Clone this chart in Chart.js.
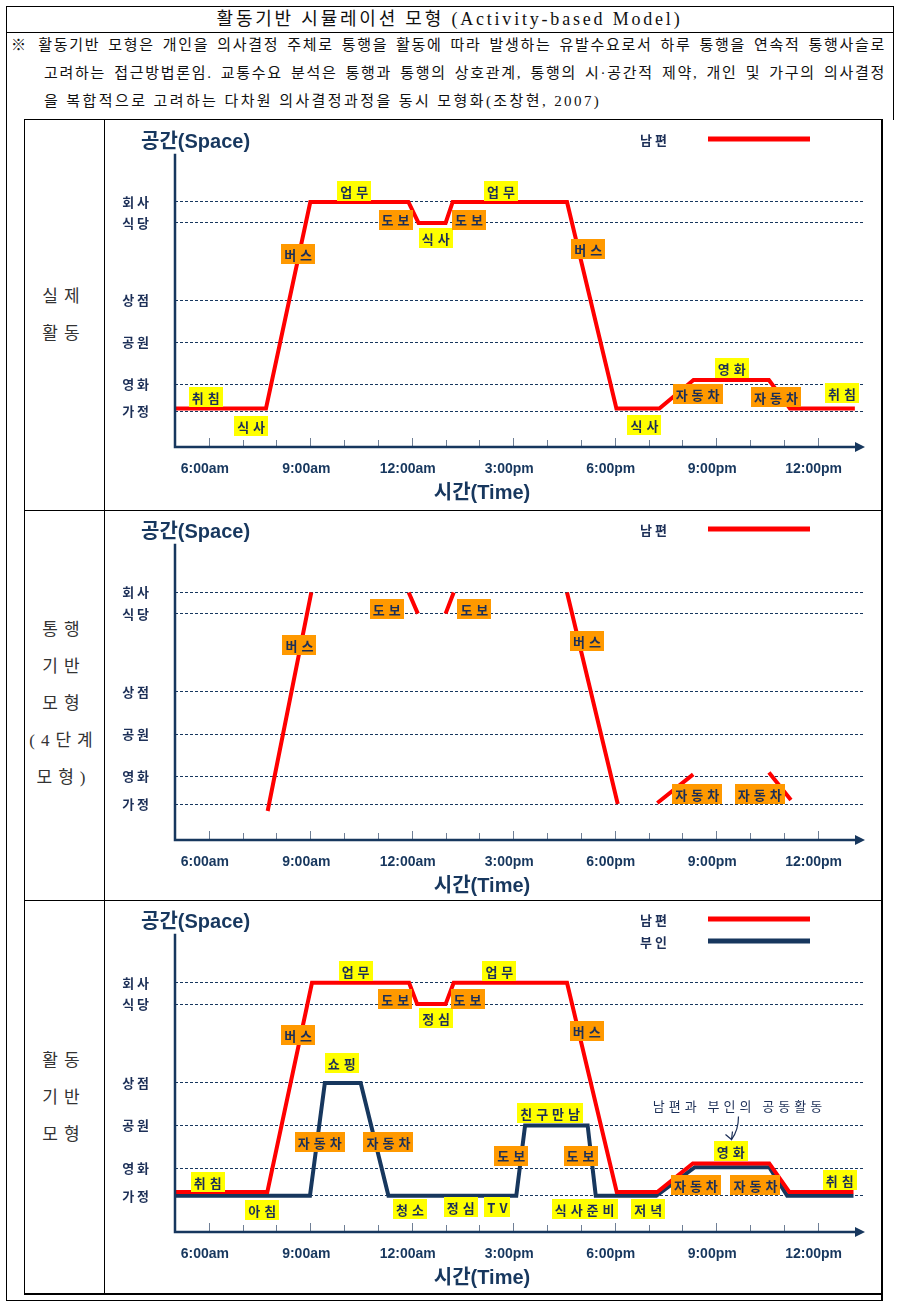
<!DOCTYPE html>
<html lang="ko">
<head>
<meta charset="utf-8">
<title>활동기반 시뮬레이션 모형</title>
<script src="https://cdn.jsdelivr.net/npm/chart.js@4.4.1/dist/chart.umd.min.js"></script>
<style>
  html, body { margin: 0; padding: 0; background: #fff; }
  #page { position: relative; width: 905px; height: 1307px; font-family: "Liberation Serif", "Noto Sans CJK KR", serif; color: #111; overflow: hidden; }
  .ln { position: absolute; background: #000; }
  #title { position: absolute; left: 6px; top: 7px; width: 887px; height: 25px; line-height: 25px; text-align: center; font-size: 18px; letter-spacing: 2.8px; }
  .note { position: absolute; font-size: 15px; height: 28px; line-height: 28px; white-space: nowrap; letter-spacing: 1.7px; }
  .just { text-align: justify; text-align-last: justify; }
  .side { position: absolute; left: 24px; width: 80px; text-align: center; font-size: 17px; line-height: 37px; letter-spacing: 6px; color: #333; }
  canvas { position: absolute; left: 105px; }
</style>
</head>
<body>
<div id="page">
  <div id="title">활동기반 시뮬레이션 모형 (Activity-based Model)</div>
  <div class="note just" style="left:11px; top:31px; width:875px;">※ 활동기반 모형은 개인을 의사결정 주체로 통행을 활동에 따라 발생하는 유발수요로서 하루 통행을 연속적 통행사슬로</div>
  <div class="note just" style="left:44px; top:59px; width:842px;">고려하는 접근방법론임. 교통수요 분석은 통행과 통행의 상호관계, 통행의 시·공간적 제약, 개인 및 가구의 의사결정</div>
  <div class="note" style="left:44px; top:87px; letter-spacing:2.4px;">을 복합적으로 고려하는 다차원 의사결정과정을 동시 모형화(조창현, 2007)</div>

  <div class="side" style="top:278px;">실제<br>활동</div>
  <div class="side" style="top:611px;">통행<br>기반<br>모형<br>(4단계<br>모형)</div>
  <div class="side" style="top:1042px;">활동<br>기반<br>모형</div>

  <canvas id="c1" width="776" height="390" style="top:120px"></canvas>
  <canvas id="c2" width="776" height="390" style="top:510px"></canvas>
  <canvas id="c3" width="776" height="394" style="top:900px"></canvas>

  <!-- frame lines -->
  <div class="ln" style="left:6px; top:6px; width:888px; height:1px"></div>
  <div class="ln" style="left:6px; top:32px; width:888px; height:1px"></div>
  <div class="ln" style="left:6px; top:6px; width:1px; height:1295px"></div>
  <div class="ln" style="left:893px; top:6px; width:1px; height:114px"></div>
  <div class="ln" style="left:6px; top:1300px; width:877px; height:1px"></div>
  <div class="ln" style="left:24px; top:119px; width:859px; height:1px"></div>
  <div class="ln" style="left:24px; top:510px; width:859px; height:1px"></div>
  <div class="ln" style="left:24px; top:900px; width:859px; height:1px"></div>
  <div class="ln" style="left:24px; top:1293px; width:859px; height:2px"></div>
  <div class="ln" style="left:24px; top:119px; width:1px; height:1176px"></div>
  <div class="ln" style="left:104px; top:119px; width:1px; height:1176px"></div>
  <div class="ln" style="left:881px; top:119px; width:2px; height:1182px"></div>
</div>

<script>
// space levels (y axis)
const levelNames = ['가 정', '영 화', '공 원', '상 점', '식 당', '회 사'];
const levelValues = [0, 1.3, 3.3, 5.3, 9, 10];

// time axis (hours)
const tickHours = [6, 9, 12, 15, 18, 21, 24];
const tickLabels = ['6:00am', '9:00am', '12:00am', '3:00pm', '6:00pm', '9:00pm', '12:00pm'];
const hourMarks = [6, 7, 8, 9, 10, 11, 12, 13, 14, 15, 16, 17, 18, 19, 20, 21, 22, 23, 24];

// panel 1 - actual activity (husband)
const p1Hours = [5, 7.69, 9.0, 11.9, 12.2, 13.0, 13.21, 16.59, 18.05, 19.32, 20.33, 22.56, 23.18, 25.1];
const p1Levels = [0.14, 0.14, 10, 10, 9, 9, 10, 10, 0.14, 0.14, 1.5, 1.5, 0.14, 0.14];
const p1LabelText = ['업무', '도보', '식사', '도보', '업무', '버스', '버스', '취침', '식사', '식사', '자동차', '영화', '자동차', '취침'];
const p1LabelHour = [10.30, 11.52, 12.71, 13.69, 14.64, 8.64, 17.22, 5.91, 7.25, 18.88, 20.45, 21.46, 22.77, 24.72];
const p1LabelLevel = [10.51, 9.16, 8.27, 9.16, 10.51, 7.52, 7.76, 0.70, -0.70, -0.65, 0.84, 2.06, 0.70, 0.89];
const p1LabelFill = ['y', 'o', 'y', 'o', 'y', 'o', 'o', 'y', 'y', 'y', 'o', 'y', 'o', 'y'];

// panel 2 - trip based model (only the trips remain, null = gap)
const p2Hours = [7.74, 9.03, null, 11.91, 12.18, null, 13.0, 13.24, null, 16.59, 18.09, null, 19.26, 20.32, null, 22.56, 23.21];
const p2Levels = [-0.33, 10, null, 10, 9, null, 9, 10, null, 10, 0, null, 0.05, 1.4, null, 1.49, 0.19];
const p2LabelText = ['버스', '도보', '도보', '버스', '자동차', '자동차'];
const p2LabelHour = [8.68, 11.26, 13.85, 17.18, 20.44, 22.29];
const p2LabelLevel = [7.53, 9.21, 9.21, 7.72, 0.47, 0.47];
const p2LabelFill = ['o', 'o', 'o', 'o', 'o', 'o'];

// panel 3 - activity based model (husband + wife)
const p3HusbandHours = [5, 7.73, 9.05, 11.92, 12.16, 13.0, 13.24, 16.59, 18.06, 19.26, 20.31, 22.57, 23.16, 25.06];
const p3HusbandLevels = [0.18, 0.18, 10, 10, 9, 9, 10, 10, 0.18, 0.18, 1.52, 1.52, 0.18, 0.18];
const p3WifeHours = [5, 8.99, 9.43, 10.49, 11.31, 15.09, 15.35, 17.2, 17.44, 19.23, 20.37, 22.57, 23.1, 25.06];
const p3WifeLevels = [0, 0, 5.3, 5.3, 0, 0, 3.3, 3.3, 0, 0, 1.34, 1.34, 0, 0];
const p3LabelText = ['업무', '도보', '정심', '도보', '업무', '버스', '쇼핑', '버스', '자동차', '자동차', '취침', '아침', '청소', '정심', 'TV', '친구만남', '도보', '도보', '식사준비', '저녁', '영화', '자동차', '자동차', '취침'];
const p3LabelHour = [10.34, 11.51, 12.72, 13.65, 14.59, 8.64, 9.93, 17.17, 9.28, 11.31, 5.97, 7.58, 11.95, 13.45, 14.53, 16.09, 14.94, 16.99, 17.11, 18.99, 21.43, 20.40, 22.16, 24.65];
const p3LabelLevel = [10.55, 9.22, 8.34, 9.22, 10.55, 7.56, 6.22, 7.74, 2.53, 2.53, 0.65, -0.65, -0.60, -0.51, -0.51, 3.87, 1.89, 1.89, -0.60, -0.60, 2.12, 0.51, 0.51, 0.74];
const p3LabelFill = ['y', 'o', 'y', 'o', 'y', 'o', 'y', 'o', 'o', 'o', 'y', 'y', 'y', 'y', 'y', 'y', 'o', 'o', 'y', 'y', 'y', 'o', 'o', 'y'];

const RED = '#ff0000';
const NAVY = '#17375e';
const TXT = '#1c2f57';
const FILLS = { y: '#ffff00', o: '#ff9900' };
const KFONT = '"Noto Sans CJK KR", sans-serif';

function points(hours, levels) {
    return hours.map((h, i) => ({ x: h, y: levels[i] }));
}

function labelList(text, hour, level, fill) {
    return text.map((t, i) => ({ t: t, h: hour[i], v: level[i], f: FILLS[fill[i]] }));
}

// axes, ticks, titles, legend and the activity boxes
const decor = {
    id: 'decor',
    afterDatasetsDraw(chart, args, opts) {
        const { ctx, chartArea: a, scales: { x, y } } = chart;
        ctx.save();

        // hour marks, pointing up from the time axis
        ctx.strokeStyle = '#6f7f96';
        ctx.lineWidth = 1;
        hourMarks.forEach(h => {
            const px = Math.round(x.getPixelForValue(h)) + 0.5;
            const len = tickHours.includes(h) ? 9 : 7;
            ctx.beginPath();
            ctx.moveTo(px, a.bottom);
            ctx.lineTo(px, a.bottom - len);
            ctx.stroke();
        });

        // axis lines + arrow
        ctx.strokeStyle = NAVY;
        ctx.lineWidth = 2.5;
        ctx.beginPath();
        ctx.moveTo(a.left, a.top);
        ctx.lineTo(a.left, a.bottom);
        ctx.lineTo(a.right - 6, a.bottom);
        ctx.stroke();
        ctx.fillStyle = NAVY;
        ctx.beginPath();
        ctx.moveTo(a.right, a.bottom);
        ctx.lineTo(a.right - 10, a.bottom - 5);
        ctx.lineTo(a.right - 10, a.bottom + 5);
        ctx.closePath();
        ctx.fill();

        // axis titles
        ctx.fillStyle = NAVY;
        ctx.font = 'bold 20px "Liberation Sans", ' + KFONT;
        ctx.textBaseline = 'middle';
        ctx.textAlign = 'left';
        ctx.fillText('공간(Space)', a.left - 34, a.top - 11);
        ctx.textAlign = 'center';
        ctx.fillText('시간(Time)', 377, a.bottom + 46);

        // legend
        ctx.font = 'bold 13px ' + KFONT;
        ctx.textAlign = 'left';
        chart.data.datasets.forEach((ds, i) => {
            const ly = 20 + i * 22;
            ctx.fillStyle = TXT;
            ctx.fillText(ds.label, 535, ly);
            ctx.strokeStyle = ds.borderColor;
            ctx.lineWidth = 5;
            ctx.beginPath();
            ctx.moveTo(603, ly - 1);
            ctx.lineTo(705, ly - 1);
            ctx.stroke();
        });

        // activity / mode boxes
        ctx.letterSpacing = '4px';
        ctx.font = 'bold 13px ' + KFONT;
        (opts.labels || []).forEach(l => {
            const cx = x.getPixelForValue(l.h);
            const cy = y.getPixelForValue(l.v);
            const tw = ctx.measureText(l.t).width - 4;
            const bw = Math.round(tw + 6);
            ctx.fillStyle = l.f;
            ctx.fillRect(Math.round(cx - bw / 2), Math.round(cy - 10), bw, 20);
            ctx.fillStyle = TXT;
            ctx.textAlign = 'left';
            ctx.fillText(l.t, cx - tw / 2, cy + 1);
        });

        // shared activity note with arrow
        if (opts.note) {
            const nx = x.getPixelForValue(opts.note.h);
            const ny = y.getPixelForValue(opts.note.v);
            ctx.font = '13px ' + KFONT;
            ctx.fillStyle = TXT;
            const tw = ctx.measureText(opts.note.t).width - 4;
            ctx.fillText(opts.note.t, nx - tw / 2, ny);
            ctx.letterSpacing = '0px';
            ctx.strokeStyle = TXT;
            ctx.lineWidth = 1.2;
            ctx.beginPath();
            ctx.moveTo(nx + 1, ny + 10);
            ctx.quadraticCurveTo(nx + 1, ny + 24, nx - 6, ny + 33);
            ctx.stroke();
            ctx.beginPath();
            ctx.moveTo(nx - 12, ny + 28);
            ctx.lineTo(nx - 6, ny + 33);
            ctx.lineTo(nx - 5, ny + 25);
            ctx.stroke();
        }
        ctx.restore();
    }
};

function makeChart(id, datasets, labels, top, xHeight, note) {
    return new Chart(document.getElementById(id), {
        type: 'line',
        data: { datasets: datasets },
        options: {
            responsive: false,
            animation: false,
            events: [],
            layout: { padding: { top: top, right: 16, left: 0, bottom: 0 } },
            elements: { point: { radius: 0 }, line: { tension: 0, borderWidth: 4, borderJoinStyle: 'miter', borderCapStyle: 'butt' } },
            plugins: {
                legend: { display: false },
                tooltip: { enabled: false },
                decor: { labels: labels, note: note }
            },
            scales: {
                x: {
                    type: 'linear',
                    min: 5,
                    max: 25.4,
                    afterFit: s => { s.height = xHeight; },
                    afterBuildTicks: s => { s.ticks = tickHours.map(v => ({ value: v })); },
                    ticks: {
                        callback: v => tickLabels[tickHours.indexOf(v)],
                        color: NAVY,
                        font: { family: '"Liberation Sans", sans-serif', size: 14, weight: 'bold' },
                        maxRotation: 0,
                        autoSkip: false,
                        labelOffset: -4,
                        padding: 6
                    },
                    grid: { display: false },
                    border: { display: false }
                },
                y: {
                    type: 'linear',
                    min: -1.7,
                    max: 12.3,
                    afterFit: s => { s.width = 70; },
                    afterBuildTicks: s => { s.ticks = levelValues.map(v => ({ value: v })); },
                    ticks: {
                        callback: v => levelNames[levelValues.indexOf(v)],
                        color: TXT,
                        font: { family: KFONT, size: 13, weight: 'bold' },
                        padding: 26
                    },
                    grid: { color: NAVY, lineWidth: 1, drawTicks: false },
                    border: { display: false, dash: [3, 2] }
                }
            }
        },
        plugins: [decor]
    });
}

makeChart('c1', [
    { label: '남 편', data: points(p1Hours, p1Levels), borderColor: RED }
], labelList(p1LabelText, p1LabelHour, p1LabelLevel, p1LabelFill), 28, 63);

makeChart('c2', [
    { label: '남 편', data: points(p2Hours, p2Levels), borderColor: RED, spanGaps: false }
], labelList(p2LabelText, p2LabelHour, p2LabelLevel, p2LabelFill), 29, 60);

makeChart('c3', [
    { label: '남 편', data: points(p3HusbandHours, p3HusbandLevels), borderColor: RED },
    { label: '부 인', data: points(p3WifeHours, p3WifeLevels), borderColor: NAVY }
], labelList(p3LabelText, p3LabelHour, p3LabelLevel, p3LabelFill), 29, 62,
   { t: '남편과 부인의 공동활동', h: 21.63, v: 4.19 });
</script>
</body>
</html>
